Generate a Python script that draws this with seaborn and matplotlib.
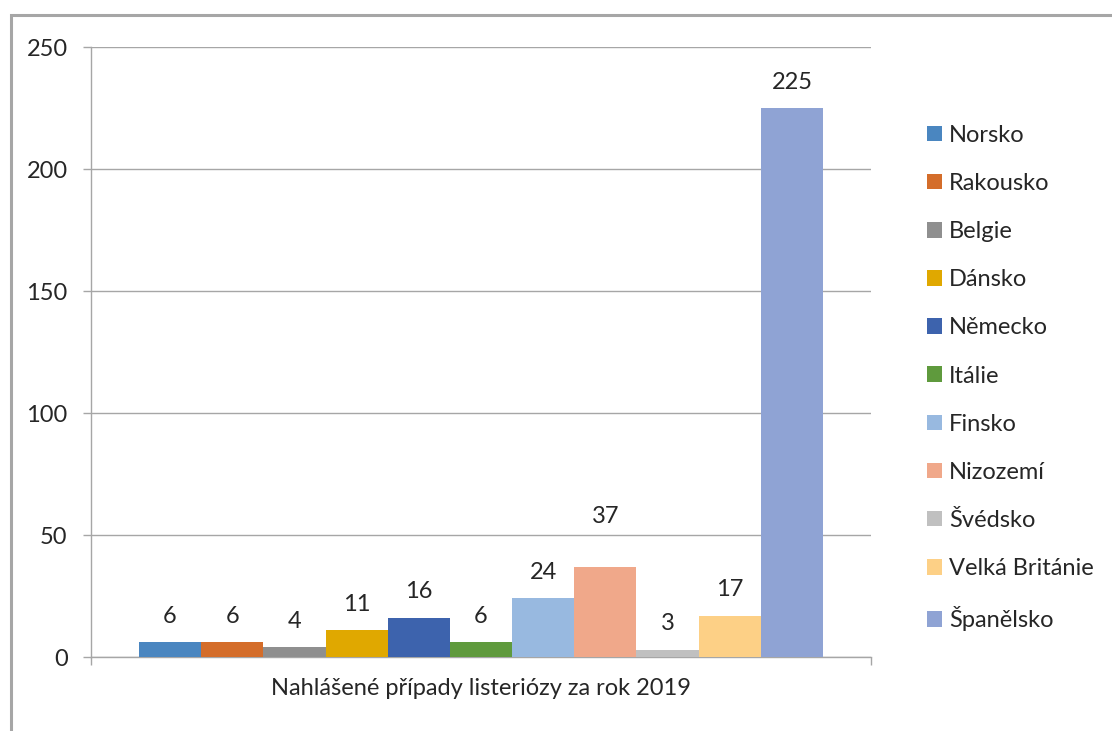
import numpy as np
import matplotlib.pyplot as plt
import matplotlib.patches as patches
import pandas as pd
import seaborn as sns

# data
kategorie = "Nahlášené případy listeriózy za rok 2019"
zeme = ["Norsko", "Rakousko", "Belgie", "Dánsko", "Německo", "Itálie",
        "Finsko", "Nizozemí", "Švédsko", "Velká Británie", "Španělsko"]
pocty = [6, 6, 4, 11, 16, 6, 24, 37, 3, 17, 225]
barvy = ["#4a86c0", "#d46d2a", "#8f8f8f", "#e0a800", "#3d63ad", "#5f9a3d",
         "#98b9e0", "#f0a88a", "#c0c0c0", "#fdd086", "#8fa3d4"]
y_ticks = [0, 50, 100, 150, 200, 250]

df = pd.DataFrame({"kategorie": [kategorie] * len(zeme), "zeme": zeme, "pocet": pocty})

sns.set_style("white")
plt.rcParams['font.family'] = ['Lato', 'DejaVu Sans']
fs = 17
seda = "#a6a6a6"

fig = plt.figure(figsize=(11.12, 7.31), dpi=100)
ax = fig.add_axes([91/1112, 1 - 657/731, (871-91)/1112, (657-47)/731])

sns.barplot(data=df, x="kategorie", y="pocet", hue="zeme", hue_order=zeme,
            palette=barvy, width=0.877, dodge=True, saturation=1,
            linewidth=0, edgecolor="none", ax=ax, legend=True, zorder=3)

ax.set_xlim(-0.5, 0.5)
ax.set_ylim(0, 250)
ax.set_yticks(y_ticks)
ax.set_xlabel("")
ax.set_ylabel("")
ax.grid(axis="y", color=seda, lw=1.0, zorder=0)
ax.set_axisbelow(True)

for s in ["top", "right"]:
    ax.spines[s].set_visible(False)
for s in ["left", "bottom"]:
    ax.spines[s].set_color(seda)
    ax.spines[s].set_linewidth(1.0)

ax.tick_params(axis="y", length=5.8, width=1.0, color=seda, pad=11, labelsize=fs, left=True)
ax.tick_params(axis="x", which="major", length=0, pad=15, labelsize=fs)
ax.set_xticks([-0.5, 0.5], minor=True)
ax.tick_params(axis="x", which="minor", length=5.8, width=1.0, color=seda, bottom=True)

# data labels above the bars (37 is lifted higher, as in the original)
for cont, v in zip(ax.containers, pocty):
    for bar in cont:
        lift = 36 if v == 37 else 18.7
        ax.annotate(str(v), (bar.get_x() + bar.get_width() / 2, bar.get_height()),
                    xytext=(0, lift), textcoords="offset points",
                    ha="center", va="center", fontsize=fs)

handles = [patches.Patch(facecolor=c, edgecolor="none") for c in barvy]
ax.legend(handles, zeme, loc="center left", bbox_to_anchor=(927/1112, 1 - 378/731),
          bbox_transform=fig.transFigure, frameon=False, fontsize=fs,
          handlelength=0.64, handleheight=0.64, handletextpad=0.3,
          labelspacing=1.15, borderpad=0, borderaxespad=0)

# grey frame round the chart area
ramecek = patches.Rectangle((11/1112, -0.1), 1.2, 1.1 - 15/731, transform=fig.transFigure,
                            fill=False, edgecolor=seda, lw=2.2)
fig.patches.append(ramecek)

fig.savefig("out.png", dpi=100)
